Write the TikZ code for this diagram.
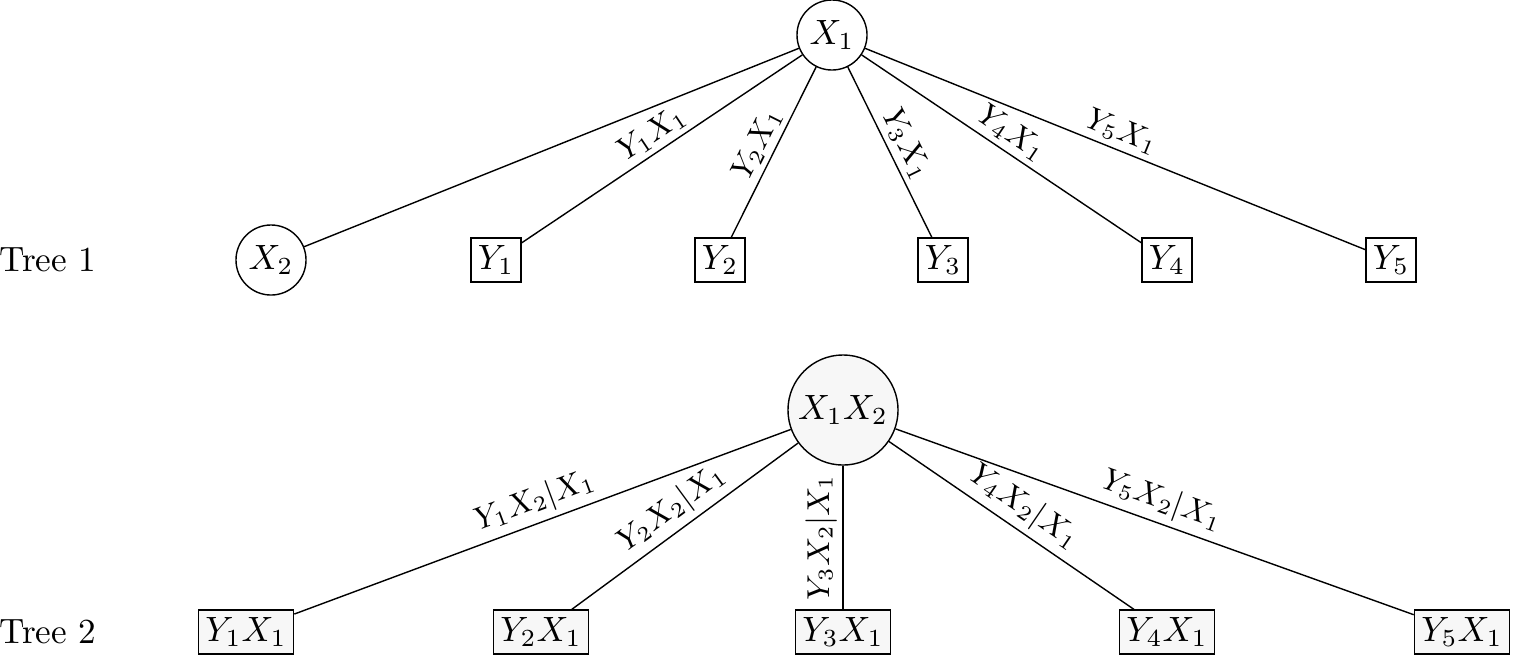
\documentclass[tikz,border=0pt]{standalone}
\usepackage{amsmath}
\begin{document}
\begin{tikzpicture}[x=0.01cm, y=-0.01cm]
        % ================= 样式定义 =================
        \tikzset{
            cnode/.style={circle, draw=black, fill=white, minimum size=7mm, inner sep=0pt},
            bnode/.style={rectangle, draw=black, fill=white, inner sep=2pt, minimum height=4.4mm},
            gnode/.style={fill=gray!6},
            edge/.style={black},
            elab/.style={sloped, above, font=\fontsize{8.6}{10}\selectfont, inner sep=1.5pt}
        }
        \useasboundingbox (0,0) rectangle (1513,657);

        % ================= Tree 1 =================
        \node (t1) at (48,260) {Tree 1};
        \node[cnode] (x1) at (832,35) {$X_1$};
        \node[cnode] (x2) at (271,260) {$X_2$};
        \node[bnode] (y1) at (496,260) {$Y_1$};
        \node[bnode] (y2) at (720,260) {$Y_2$};
        \node[bnode] (y3) at (943,260) {$Y_3$};
        \node[bnode] (y4) at (1167,260) {$Y_4$};
        \node[bnode] (y5) at (1391,260) {$Y_5$};

        \draw[edge] (x2) -- (x1);
        \draw[edge] (y1) -- node[elab] {$Y_1X_1$} (x1);
        \draw[edge] (y2) -- node[elab] {$Y_2X_1$} (x1);
        \draw[edge] (x1) -- node[elab] {$Y_3X_1$} (y3);
        \draw[edge] (x1) -- node[elab] {$Y_4X_1$} (y4);
        \draw[edge] (x1) -- node[elab] {$Y_5X_1$} (y5);

        % ================= Tree 2 =================
        \node (t2) at (48,632) {Tree 2};
        \node[cnode, gnode, minimum size=11mm] (x12) at (843,410) {$X_1X_2$};
        \node[bnode, gnode] (z1) at (246,632) {$Y_1X_1$};
        \node[bnode, gnode] (z2) at (541,632) {$Y_2X_1$};
        \node[bnode, gnode] (z3) at (843,632) {$Y_3X_1$};
        \node[bnode, gnode] (z4) at (1167,632) {$Y_4X_1$};
        \node[bnode, gnode] (z5) at (1462,632) {$Y_5X_1$};

        \draw[edge] (z1) -- node[elab] {$Y_1X_2|X_1$} (x12);
        \draw[edge] (z2) -- node[elab] {$Y_2X_2|X_1$} (x12);
        \draw[edge] (z3) -- node[elab] {$Y_3X_2|X_1$} (x12);
        \draw[edge] (x12) -- node[elab] {$Y_4X_2|X_1$} (z4);
        \draw[edge] (x12) -- node[elab] {$Y_5X_2|X_1$} (z5);
\end{tikzpicture}
\end{document}
